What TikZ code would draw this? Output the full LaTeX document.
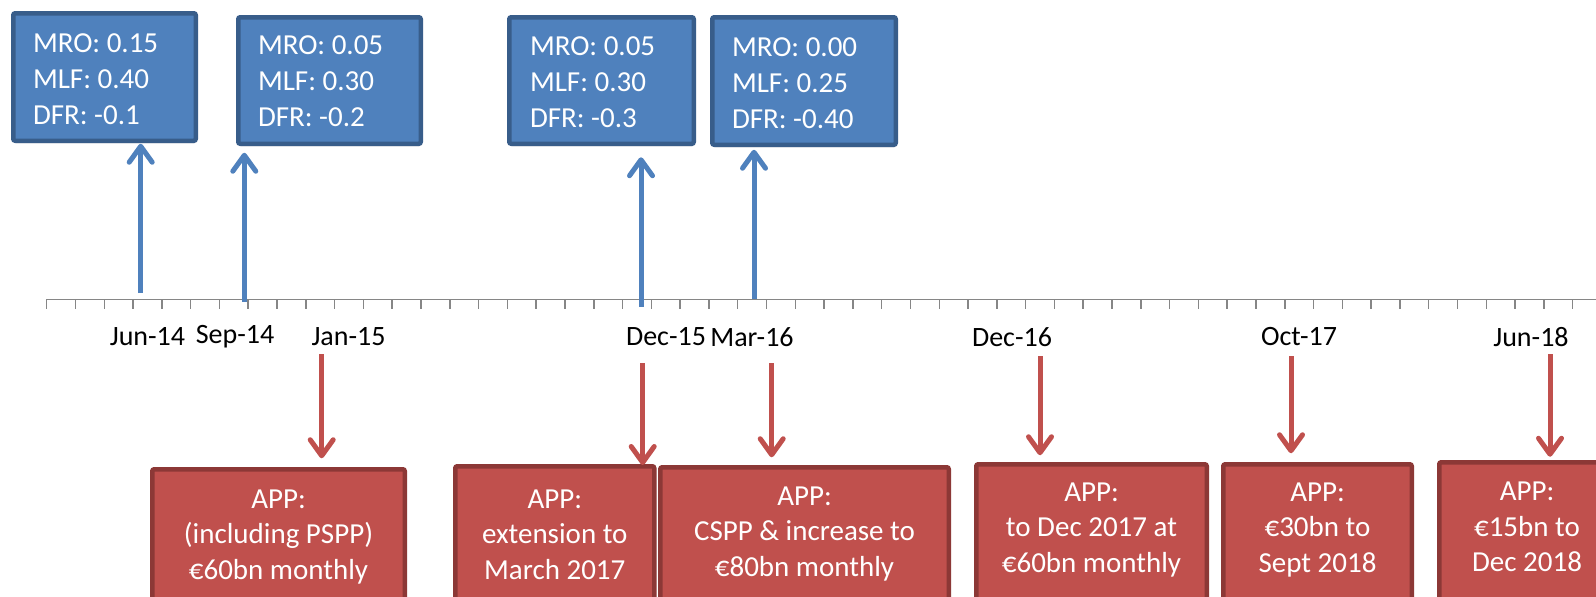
\documentclass[tikz,border=0pt]{standalone}
\usepackage{fontspec}
\setmainfont{Carlito}
\usetikzlibrary{arrows.meta,shadows,calc}
\definecolor{rateblue}{RGB}{79,129,189}
\definecolor{rateedge}{RGB}{56,93,138}
\definecolor{appred}{RGB}{192,80,77}
\definecolor{appedge}{RGB}{140,56,54}
\definecolor{axisgray}{RGB}{134,134,134}
\begin{document}
\begin{tikzpicture}[x=1pt,y=-1pt,
  every node/.style={inner sep=0pt, outer sep=0pt},
  boxshadow/.style={drop shadow={shadow xshift=1pt, shadow yshift=-2.5pt, opacity=.22}},
  ratebox/.style={draw=rateedge, fill=rateblue, line width=4.5pt, rounded corners=2pt, boxshadow},
  appbox/.style={draw=appedge, fill=appred, line width=4.5pt, rounded corners=2pt, boxshadow},
  ratetext/.style={text=white, align=left, anchor=west, font=\fontsize{29}{36}\selectfont},
  apptext/.style={text=white, align=center, anchor=north, font=\fontsize{29}{35.5}\selectfont},
  ticklabel/.style={text=black, font=\fontsize{28}{34}\selectfont},
  barb/.style={-{Straight Barb[length=16pt,width=23pt,line join=round,line cap=round]}},
  uparrow/.style={draw=rateblue, line width=5pt, barb},
  downarrow/.style={draw=appred, line width=5pt, barb},
  axisline/.style={draw=axisgray, line width=1.5pt}
]
\path[use as bounding box, fill=white] (0,0) rectangle (1596,597);
\clip (0,0) rectangle (1596,597);

% time axis with monthly ticks
\coordinate (a0) at (46.7,299.3);
\coordinate (a1) at (1596,299.3);
\draw[axisline] (a0) -- (a1);
\foreach \k in {0,...,53}
  \draw[axisline] ($(a0)+(\k*28.792,0)$) -- ++(0,10);

\node[ticklabel] (lJun14) at (147.5,337) {Jun-14};
\node[ticklabel] (lSep14) at (235,337) {Sep-14};
\node[ticklabel] (lJan15) at (348.5,337) {Jan-15};
\node[ticklabel] (lDec15) at (666,337) {Dec-15};
\node[ticklabel] (lMar16) at (752,337) {Mar-16};
\node[ticklabel] (lDec16) at (1012,337) {Dec-16};
\node[ticklabel] (lOct17) at (1299,337) {Oct-17};
\node[ticklabel] (lJun18) at (1531,337) {Jun-18};

% policy rate boxes
\node[ratebox, minimum width=182.5pt, minimum height=127.5pt] (r1) at (104.5,77) {};
\node[ratebox, minimum width=182.5pt, minimum height=126.5pt] (r2) at (329.5,80.5) {};
\node[ratebox, minimum width=184.5pt, minimum height=126.5pt] (r3) at (601.5,80.5) {};
\node[ratebox, minimum width=183.5pt, minimum height=127.5pt] (r4) at (804,81) {};
\node[ratetext] (t1) at (33,79) {MRO: 0.15\\MLF: 0.40\\DFR: -0.1};
\node[ratetext] (t2) at (258,81.5) {MRO: 0.05\\MLF: 0.30\\DFR: -0.2};
\node[ratetext] (t3) at (530,82) {MRO: 0.05\\MLF: 0.30\\DFR: -0.3};
\node[ratetext] (t4) at (732,83) {MRO: 0.00\\MLF: 0.25\\DFR: -0.40};

% arrows from the axis up to the rate boxes
\coordinate (c1) at (140.7,293);
\coordinate (c2) at (244.3,301.7);
\coordinate (c3) at (641,306.7);
\coordinate (c4) at (754,299.3);
\draw[uparrow, shorten >=3pt] (c1) -- (c1 |- r1.south);
\draw[uparrow, shorten >=9pt] (c2) -- (c2 |- r2.south);
\draw[uparrow, shorten >=13.5pt] (c3) -- (c3 |- r3.south);
\draw[uparrow, shorten >=5pt] (c4) -- (c4 |- r4.south);

% asset purchase programme boxes
\node[appbox, anchor=north, minimum width=252.5pt, minimum height=153pt] (bA) at (278.5,469.25) {};
\node[appbox, anchor=north, minimum width=199pt, minimum height=156pt] (bB) at (554.75,466.25) {};
\node[appbox, anchor=north, minimum width=288.5pt, minimum height=155pt] (bC) at (804.5,467.25) {};
\node[appbox, anchor=north, minimum width=230.5pt, minimum height=158pt] (bD) at (1091.5,464.25) {};
\node[appbox, anchor=north, minimum width=188.5pt, minimum height=158pt] (bE) at (1317.5,464.25) {};
\node[appbox, anchor=north, minimum width=175.5pt, minimum height=160pt] (bF) at (1527,462.25) {};
\node[apptext] (xA) at (278.5,489.5) {APP:\\(including PSPP)\\€60bn monthly};
\node[apptext] (xB) at (554.75,489.5) {APP:\\extension to\\March 2017};
\node[apptext] (xC) at (804.5,486.5) {APP:\\CSPP \& increase to\\€80bn monthly};
\node[apptext] (xD) at (1091.5,482.5) {APP:\\to Dec 2017 at\\€60bn monthly};
\node[apptext] (xE) at (1317.5,482.5) {APP:\\€30bn to\\Sept 2018};
\node[apptext] (xF) at (1527,482) {APP:\\€15bn to\\Dec 2018};

% arrows from below the axis down to the programme boxes
\coordinate (dA) at (321.7,354);
\coordinate (dB) at (642.7,363);
\coordinate (dC) at (771.7,363);
\coordinate (dD) at (1040,356);
\coordinate (dE) at (1291,356);
\coordinate (dF) at (1550,354);
\draw[downarrow, shorten >=11pt] (dA) -- (dA |- bA.north);
\draw[downarrow, shorten >=1.25pt] (dB) -- (dB |- bB.north);
\draw[downarrow, shorten >=10pt] (dC) -- (dC |- bC.north);
\draw[downarrow, shorten >=9pt] (dD) -- (dD |- bD.north);
\draw[downarrow, shorten >=11pt] (dE) -- (dE |- bE.north);
\draw[downarrow, shorten >=5.5pt] (dF) -- (dF |- bF.north);
\end{tikzpicture}
\end{document}
